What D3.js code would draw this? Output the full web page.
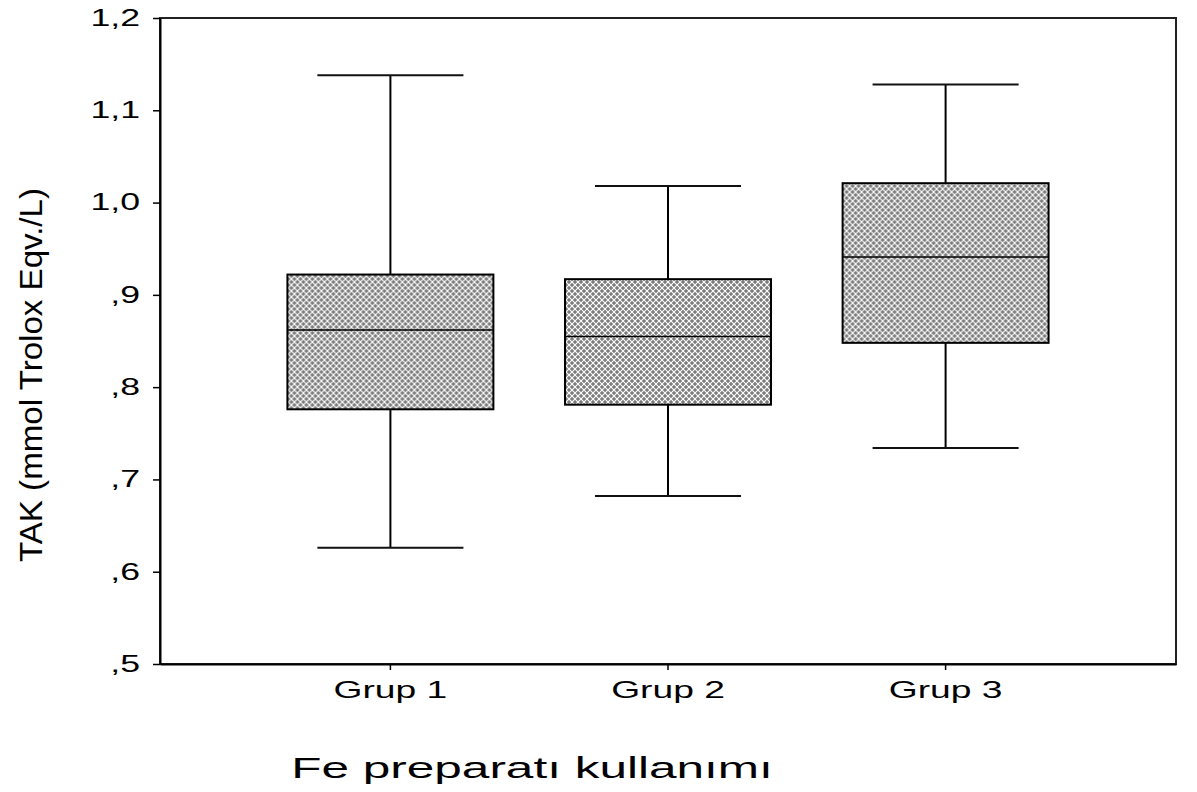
<!DOCTYPE html>
<html>
<head>
<meta charset="utf-8">
<script src="https://cdn.jsdelivr.net/npm/d3@7"></script>
<style>
  body { margin: 0; background: #fff; }
  text { font-family: "Liberation Sans", Arial, sans-serif; fill: #000; }
</style>
</head>
<body>
<div id="vis"></div>
<script>
// Datos
const grupos = ["Grup 1", "Grup 2", "Grup 3"];
const bigoteInf = [0.626, 0.682, 0.734];
const q1 = [0.776, 0.781, 0.848];
const mediana = [0.862, 0.855, 0.941];
const q3 = [0.922, 0.917, 1.021];
const bigoteSup = [1.138, 1.018, 1.128];

const yTicks = [0.5, 0.6, 0.7, 0.8, 0.9, 1.0, 1.1, 1.2];
const yTickLabels = [",5", ",6", ",7", ",8", ",9", "1,0", "1,1", "1,2"];

const WIDTH = 1197;
const HEIGHT = 792;
const MARGIN = { top: 18, right: 21, bottom: 128, left: 160 };
const STRETCH = 1.55; // el texto original esta estirado a lo ancho

const SVG = d3.select("#vis").append("svg")
    .attr("width", WIDTH)
    .attr("height", HEIGHT);

// patron gris con reticula blanca de las cajas
const pat = SVG.append("defs").append("pattern")
    .attr("id", "trama")
    .attr("patternUnits", "userSpaceOnUse")
    .attr("width", 6)
    .attr("height", 6);
pat.append("rect").attr("width", 6).attr("height", 6).attr("fill", "#7c7c7c");
pat.append("path")
    .attr("d", "M0,0L6,6M6,0L0,6")
    .attr("stroke", "#ffffff")
    .attr("stroke-width", 1.1);

const datos = grupos.map((g, i) => ({
    grupo: g, lo: bigoteInf[i], q1: q1[i], med: mediana[i], q3: q3[i], hi: bigoteSup[i]
}));

const x = d3.scaleBand()
    .domain(grupos)
    .range([MARGIN.left, WIDTH - MARGIN.right])
    .paddingInner(0.258)
    .paddingOuter(0.459);

const y = d3.scaleLinear()
    .domain([0.5, 1.2])
    .range([HEIGHT - MARGIN.bottom, MARGIN.top]);

function estirar(sel, k) {
    sel.each(function () {
        const w = this.getComputedTextLength();
        d3.select(this).attr("textLength", w * k).attr("lengthAdjust", "spacingAndGlyphs");
    });
}

// marco
SVG.append("rect")
    .attr("x", MARGIN.left)
    .attr("y", MARGIN.top)
    .attr("width", WIDTH - MARGIN.right - MARGIN.left)
    .attr("height", HEIGHT - MARGIN.bottom - MARGIN.top)
    .attr("fill", "none")
    .attr("stroke", "#222")
    .attr("stroke-width", 2);

// eje Y
const ejeY = SVG.append("g")
    .attr("transform", `translate(${MARGIN.left},0)`)
    .call(d3.axisLeft(y).tickValues(yTicks).tickSize(7).tickSizeOuter(0).tickPadding(13)
        .tickFormat((d, i) => yTickLabels[i]));
ejeY.select(".domain").attr("stroke", "#000").attr("stroke-width", 2);
ejeY.selectAll(".tick line").attr("stroke", "#000").attr("stroke-width", 1.5);
ejeY.selectAll("text").attr("font-size", 23).attr("fill", "#000");
estirar(ejeY.selectAll("text"), STRETCH);

// eje X
const ejeX = SVG.append("g")
    .attr("transform", `translate(0,${HEIGHT - MARGIN.bottom})`)
    .call(d3.axisBottom(x).tickSize(6).tickSizeOuter(0).tickPadding(11));
ejeX.select(".domain").attr("stroke", "#000").attr("stroke-width", 2);
ejeX.selectAll(".tick line").attr("stroke", "#000").attr("stroke-width", 1.5);
ejeX.selectAll("text").attr("font-size", 24).attr("fill", "#000");
estirar(ejeX.selectAll("text"), STRETCH);

// cajas
const bw = x.bandwidth();
const capW = bw * 0.709;
const cajas = SVG.selectAll("g.caja")
    .data(datos)
    .join("g")
    .attr("class", "caja")
    .attr("transform", d => `translate(${x(d.grupo) + bw / 2},0)`);

cajas.append("line")
    .attr("x1", 0).attr("x2", 0)
    .attr("y1", d => y(d.hi)).attr("y2", d => y(d.lo))
    .attr("stroke", "#000").attr("stroke-width", 2);

cajas.selectAll("line.cap")
    .data(d => [d.lo, d.hi])
    .join("line")
    .attr("class", "cap")
    .attr("x1", -capW / 2).attr("x2", capW / 2)
    .attr("y1", v => y(v)).attr("y2", v => y(v))
    .attr("stroke", "#111").attr("stroke-width", 2);

cajas.append("rect")
    .attr("x", -bw / 2)
    .attr("width", bw)
    .attr("y", d => y(d.q3))
    .attr("height", d => y(d.q1) - y(d.q3))
    .attr("fill", "url(#trama)")
    .attr("stroke", "#000")
    .attr("stroke-width", 2);

cajas.append("line")
    .attr("x1", -bw / 2).attr("x2", bw / 2)
    .attr("y1", d => y(d.med)).attr("y2", d => y(d.med))
    .attr("stroke", "#000").attr("stroke-width", 1.5);

// titulos de ejes
const tituloX = SVG.append("text")
    .attr("x", 532)
    .attr("y", 778)
    .attr("text-anchor", "middle")
    .attr("font-size", 30)
    .text("Fe preparatı kullanımı");
estirar(tituloX, 1.65);

SVG.append("text")
    .attr("transform", `translate(42,375) rotate(-90)`)
    .attr("text-anchor", "middle")
    .attr("font-size", 32)
    .attr("textLength", 374)
    .attr("lengthAdjust", "spacingAndGlyphs")
    .text("TAK (mmol Trolox Eqv./L)");
</script>
</body>
</html>
